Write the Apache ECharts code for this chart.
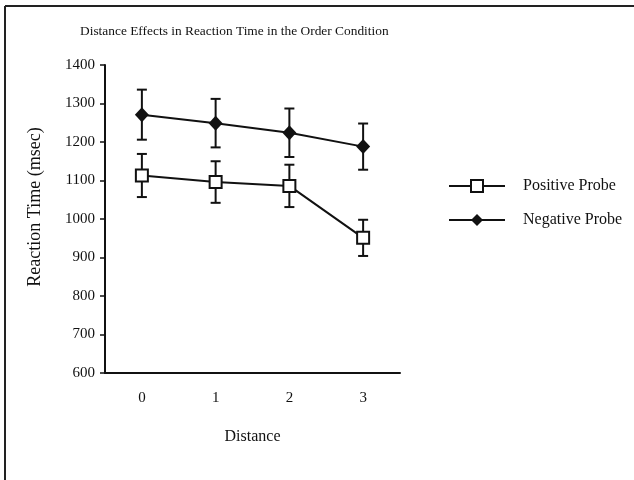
<!DOCTYPE html>
<html>
<head>
<meta charset="utf-8">
<script src="https://cdn.jsdelivr.net/npm/echarts@6/dist/echarts.min.js"></script>
<style>
  html, body { margin: 0; padding: 0; background: #fff; }
  #chart { width: 634px; height: 480px; }
</style>
</head>
<body>
<div id="chart"></div>
<script>
const distances = ['0', '1', '2', '3']
const positiveRT = [1113, 1096, 1086, 951]
const positiveErr = [56, 54, 55, 47]
const negativeRT = [1271, 1249, 1224, 1188]
const negativeErr = [65, 63, 63, 60]
const yMin = 600
const yMax = 1400
const yStep = 100

const serif = 'Liberation Serif'
const ink = '#111'

// error bars as [index, low, high]
function errData(vals, errs) {
  return vals.map(function (v, i) {
    return [i, v - errs[i], v + errs[i]]
  })
}

function renderErr(params, api) {
  const top = api.coord([api.value(0), api.value(2)])
  const bot = api.coord([api.value(0), api.value(1)])
  const hw = 5
  const st = { stroke: ink, lineWidth: 2 }
  return {
    type: 'group',
    children: [
      { type: 'line', shape: { x1: top[0], y1: top[1], x2: bot[0], y2: bot[1] }, style: st },
      { type: 'line', shape: { x1: top[0] - hw, y1: top[1], x2: top[0] + hw, y2: top[1] }, style: st },
      { type: 'line', shape: { x1: bot[0] - hw, y1: bot[1], x2: bot[0] + hw, y2: bot[1] }, style: st }
    ]
  }
}

const chart = echarts.init(document.getElementById('chart'))
const option = {
  backgroundColor: '#fff',
  animation: false,
  title: {
    text: 'Distance Effects in Reaction Time in the Order Condition',
    left: 75,
    top: 20,
    textStyle: { fontFamily: serif, fontSize: 13.4, fontWeight: 'normal', color: ink }
  },
  legend: {
    orient: 'vertical',
    left: 448,
    top: 178,
    padding: 0,
    itemWidth: 56,
    itemHeight: 15,
    itemGap: 18,
    data: ['Positive Probe', 'Negative Probe'],
    textStyle: { fontFamily: serif, fontSize: 16, color: ink, padding: [0, 0, 0, 13] }
  },
  grid: { left: 105, top: 65, width: 295, height: 308 },
  xAxis: {
    type: 'category',
    data: distances,
    boundaryGap: true,
    name: 'Distance',
    nameLocation: 'middle',
    nameGap: 56,
    nameTextStyle: { fontFamily: serif, fontSize: 16, color: ink },
    axisLine: { lineStyle: { color: ink, width: 2 } },
    axisTick: { alignWithLabel: true, length: 5, lineStyle: { color: ink, width: 1.5 } },
    axisLabel: { fontFamily: serif, fontSize: 15, color: ink, margin: 18 },
    splitLine: { show: false }
  },
  yAxis: {
    type: 'value',
    min: yMin,
    max: yMax,
    interval: yStep,
    axisLine: { show: true, lineStyle: { color: ink, width: 2 } },
    axisTick: { show: true, length: 5, lineStyle: { color: ink, width: 1.5 } },
    axisLabel: {
      fontFamily: serif, fontSize: 15, color: ink, margin: 10,
      formatter: function (v) { return String(v) }
    },
    splitLine: { show: false }
  },
  graphic: [
    { type: 'line', shape: { x1: 5, y1: 6, x2: 634, y2: 6 }, style: { stroke: '#222', lineWidth: 2 } },
    { type: 'line', shape: { x1: 5, y1: 6, x2: 5, y2: 480 }, style: { stroke: '#222', lineWidth: 2 } },
    {
      type: 'text',
      x: 35,
      y: 207,
      rotation: Math.PI / 2,
      style: {
        text: 'Reaction Time (msec)',
        font: '18px "Liberation Serif"',
        fill: ink,
        align: 'center',
        verticalAlign: 'middle'
      }
    }
  ],
  series: [
    {
      name: 'posErr',
      type: 'custom',
      z: 1,
      renderItem: renderErr,
      data: errData(positiveRT, positiveErr)
    },
    {
      name: 'negErr',
      type: 'custom',
      z: 1,
      renderItem: renderErr,
      data: errData(negativeRT, negativeErr)
    },
    {
      name: 'Positive Probe',
      type: 'line',
      z: 3,
      data: positiveRT,
      symbol: 'rect',
      symbolSize: 12,
      lineStyle: { color: ink, width: 2 },
      itemStyle: { color: '#fff', borderColor: ink, borderWidth: 2 }
    },
    {
      name: 'Negative Probe',
      type: 'line',
      z: 3,
      data: negativeRT,
      symbol: 'diamond',
      symbolSize: [14, 15],
      lineStyle: { color: ink, width: 2 },
      itemStyle: { color: ink, borderColor: ink, borderWidth: 0 }
    }
  ]
}
chart.setOption(option)
</script>
</body>
</html>
